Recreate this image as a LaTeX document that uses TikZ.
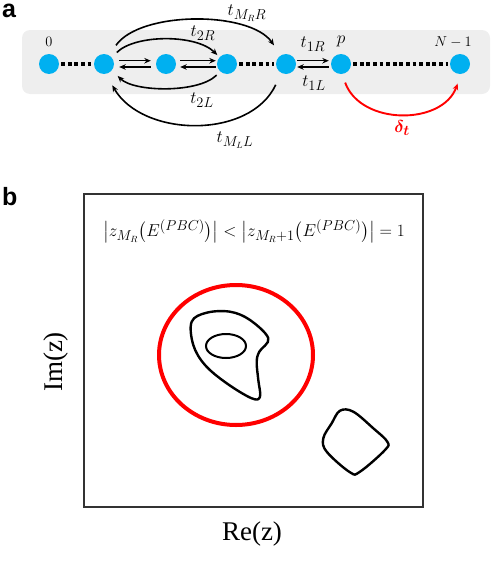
\documentclass[tikz,border=0pt]{standalone}
\usepackage{amsmath}
\usepackage{bm}
\usepackage{xcolor}
\usepackage{fontspec}
\newfontfamily\panelfont{Liberation Sans}
\newfontfamily\axisfont{Liberation Serif}
\usepackage{tikz}
\usetikzlibrary{arrows.meta}
\definecolor{siteblue}{RGB}{0,176,240}
\definecolor{chaingray}{RGB}{238,238,238}

\begin{document}
\begin{tikzpicture}[x=1pt, y=-1pt,
    site/.style={circle, fill=siteblue, inner sep=0pt, minimum width=20pt, minimum height=19.5pt},
    lab/.style={inner sep=1pt, font=\fontsize{19}{21}\selectfont},
    sitelab/.style={inner sep=1pt, font=\fontsize{15}{17}\selectfont},
    tag/.style={inner sep=0pt, anchor=north west, font=\panelfont\bfseries\fontsize{25}{27}\selectfont},
    hop/.style={-{Stealth[length=6.5pt,width=5.5pt]}, line width=1.6pt},
    gap/.style={line width=3.6pt, dash pattern=on 3.8pt off 2.8pt, shorten <=2pt, shorten >=2pt},
    contour/.style={line width=2.4pt, line join=round}]
  \useasboundingbox (0,0) rectangle (499,565);
  % Panel a: the chain
  \node[tag] (taga) at (2,4) {a};
  \fill[chaingray, rounded corners=8pt] (22,30) rectangle (490,94);
  \node[site] (s0) at (49,64) {};
  \node[site] (s1) at (104,64) {};
  \node[site] (s2) at (166,64) {};
  \node[site] (s3) at (227,64) {};
  \node[site] (s4) at (286,64) {};
  \node[site] (sp) at (341,64) {};
  \node[site] (sn) at (460,64) {};
  \node[sitelab] (lab0) at (49,42) {$0$};
  \node[lab, font=\fontsize{18}{20}\selectfont] (labp) at (341,41) {$p$};
  \node[sitelab, font=\fontsize{14}{16}\selectfont] (labn) at (453,42) {$N-1$};
  % Dotted stretches
  \draw[gap] (s0) -- (s1);
  \draw[gap] (s3) -- (s4);
  \draw[gap] (sp) -- (sn);
  % Nearest-neighbour hoppings
  \draw[hop, line width=1.3pt, shorten <=5pt, shorten >=5pt] ([yshift=3.3pt]s1.east) -- ([yshift=3.3pt]s2.west);
  \draw[hop, line width=1.3pt, shorten <=5pt, shorten >=5pt] ([yshift=-3pt]s2.west) -- ([yshift=-3pt]s1.east);
  \draw[hop, line width=1.3pt, shorten <=4pt, shorten >=1pt] ([yshift=3.3pt]s2.east) -- ([yshift=3.3pt]s3.west);
  \draw[hop, line width=1.3pt, shorten <=1pt, shorten >=4pt] ([yshift=-3pt]s3.west) -- ([yshift=-3pt]s2.east);
  \draw[hop, line width=1.3pt, shorten <=1pt, shorten >=2pt] ([yshift=3.3pt]s4.east) -- ([yshift=3.3pt]sp.west);
  \draw[hop, line width=1.3pt, shorten <=2pt, shorten >=1pt] ([yshift=-3pt]sp.west) -- ([yshift=-3pt]s4.east);
  \node[lab] (t1r) at (313,44) {$t_{1R}$};
  \node[lab] (t1l) at (314,83) {$t_{1L}$};
  % Long-range hoppings
  \draw[hop, shorten <=7pt, shorten >=3pt] (s1.40) to[out=45, in=135, looseness=0.78] (s3.138);
  \draw[hop, shorten <=12pt, shorten >=12pt] (s1.60) to[out=55, in=125, looseness=0.81] (s4.120);
  \draw[hop, shorten <=5pt, shorten >=8pt] (s3.228) to[out=-135, in=-45, looseness=0.73] (s1.-38);
  \draw[hop, shorten <=13pt, shorten >=13pt] (s4.242) to[out=-115, in=-60, looseness=1.07] (s1.-80);
  \node[lab] (t2r) at (203,33) {$t_{2R}$};
  \node[lab] (t2l) at (202,100) {$t_{2L}$};
  \node[lab] (tmr) at (247,13) {$t_{M_RR}$};
  \node[lab] (tml) at (235,140) {$t_{M_LL}$};
  % Shift of the impurity
  \draw[hop, red, line width=1.9pt, shorten <=9pt, shorten >=10pt] (sp.-84) to[out=-70, in=-110, looseness=1.18] (sn.-84);
  \node[lab, red] (dlt) at (402,128) {$\bm{\delta_t}$};
  % Panel b: the complex plane
  \node[tag] (tagb) at (2,187) {b};
  \draw[line width=1.5pt, black!80] (84,194) rectangle (423,507);
  \node[lab] (cond) at (254,231) {$\bigl|z_{M_R}\bigl(E^{(PBC)}\bigr)\bigr| < \bigl|z_{M_R+1}\bigl(E^{(PBC)}\bigr)\bigr| = 1$};
  \node[font=\axisfont\fontsize{27}{30}\selectfont, rotate=90] (imz) at (56,362) {Im(z)};
  \node[font=\axisfont\fontsize{27}{30}\selectfont] (rez) at (252,534) {Re(z)};
  % Unit circle and spectra
  \draw[red, line width=4pt] (236,355) ellipse (77 and 70);
  \draw[line width=2pt] (226,346) ellipse (20 and 12);
  \draw[contour] plot[smooth cycle, tension=0.6] coordinates {(191.7,321.7) (206.7,312.7) (230,311.7) (250,320) (268.3,338.3) (259.3,351.7) (256.7,362) (258.3,380) (260,396.7) (251.7,398.3) (226.7,383.3) (205,365) (193.3,345)};
  \draw[contour] plot[smooth cycle, tension=0.6] coordinates {(340,410.7) (353.3,411.7) (373.3,428.3) (387.3,441.7) (385,450) (360,471.7) (350,472.3) (326.7,451.7) (323.3,438.3) (331.7,423.3)};
\end{tikzpicture}
\end{document}
